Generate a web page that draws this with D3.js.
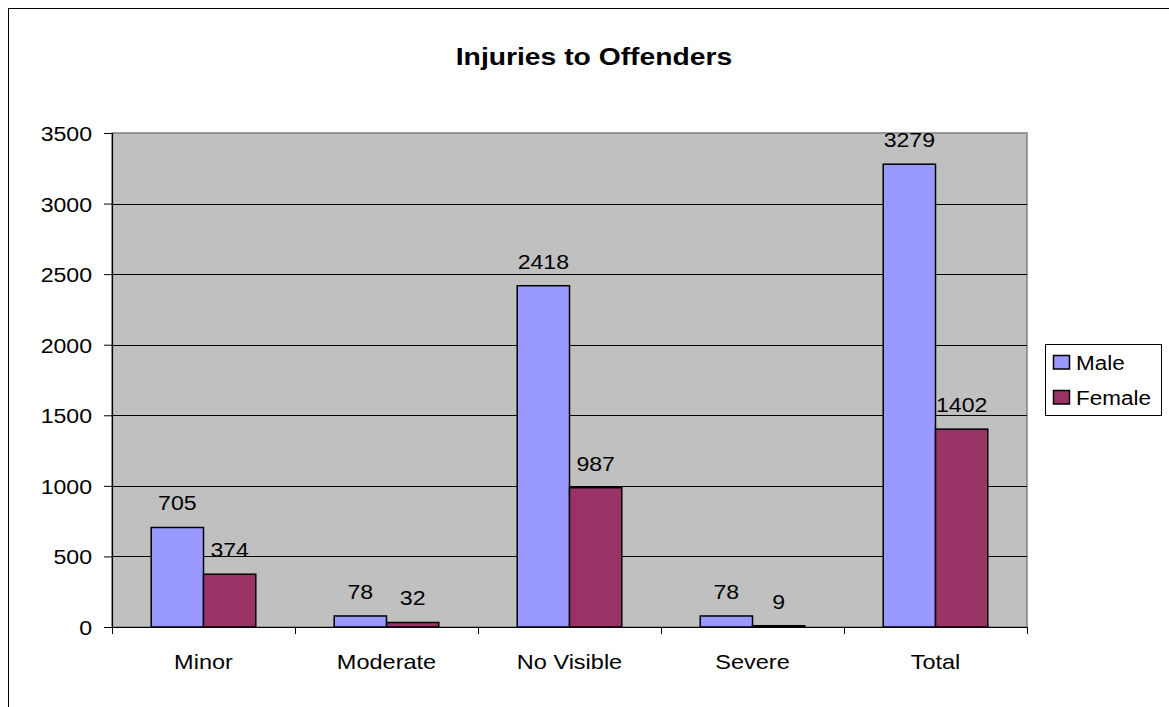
<!DOCTYPE html>
<html>
<head>
<meta charset="utf-8">
<script src="https://cdn.jsdelivr.net/npm/d3@7"></script>
<style>
  html, body { margin: 0; padding: 0; background: #fff; }
  svg { display: block; font-family: Arial, "Liberation Sans", sans-serif; }
</style>
</head>
<body>
<svg id="chart" width="1169" height="707"></svg>
<script>
const categories = ["Minor", "Moderate", "No Visible", "Severe", "Total"];
const seriesNames = ["Male", "Female"];
const maleValues = [705, 78, 2418, 78, 3279];
const femaleValues = [374, 32, 987, 9, 1402];
const yTicks = [0, 500, 1000, 1500, 2000, 2500, 3000, 3500];
const colors = ["#9999FF", "#993366"];
const title = "Injuries to Offenders";

const svg = d3.select("#chart");
const plot = { left: 112, top: 133, right: 1027, bottom: 627 };
const SX = 1.1; // horizontal stretch of the reference glyphs

function stretchedText(parent, x, y, str, anchor, size, weight, sx) {
  return parent.append("text")
    .attr("transform", `translate(${x},${y}) scale(${sx},1)`)
    .attr("text-anchor", anchor).attr("font-size", size)
    .attr("font-weight", weight || "normal").attr("fill", "#000")
    .text(str);
}

// outer chart border
svg.append("rect").attr("x", 8.5).attr("y", 8.5).attr("width", 1300).attr("height", 800)
  .attr("fill", "#fff").attr("stroke", "#000").attr("stroke-width", 1);

// title
stretchedText(svg, 594, 64.5, title, "middle", 23, "bold", 1.23);

const y = d3.scaleLinear().domain([0, 3500]).range([plot.bottom, plot.top]);
const x0 = d3.scaleBand().domain(categories).range([plot.left, plot.right]).paddingInner(0).paddingOuter(0);
const bw = x0.bandwidth();
const barW = bw / (2 + 1.5);
const x1 = d3.scaleBand().domain(seriesNames).range([0, barW * 2]);

// plot background
svg.append("rect").attr("x", plot.left).attr("y", plot.top)
  .attr("width", plot.right - plot.left).attr("height", plot.bottom - plot.top)
  .attr("fill", "#C0C0C0").attr("stroke", "#808080").attr("stroke-width", 1.5);

// gridlines
svg.append("g").selectAll("line").data(yTicks.filter(d => d > 0 && d < 3500)).join("line")
  .attr("x1", plot.left).attr("x2", plot.right)
  .attr("y1", d => Math.round(y(d)) + 0.5).attr("y2", d => Math.round(y(d)) + 0.5)
  .attr("stroke", "#000").attr("stroke-width", 1);

// y axis
const yAxis = svg.append("g").attr("transform", `translate(${plot.left},0)`)
  .call(d3.axisLeft(y).tickValues(yTicks).tickSize(8).tickFormat(""));
yAxis.select(".domain").attr("stroke", "#000").attr("stroke-width", 1.2);
yAxis.selectAll(".tick line").attr("stroke", "#000");
yAxis.selectAll(".tick").each(function(d) {
  stretchedText(d3.select(this), -20, 7.5, d3.format("d")(d), "end", 21, "normal", SX);
});

// bars
const data = categories.map((c, i) => ({ cat: c, vals: [maleValues[i], femaleValues[i]] }));
const groups = svg.append("g").selectAll("g").data(data).join("g")
  .attr("transform", d => `translate(${x0(d.cat) + (bw - barW * 2) / 2},0)`);
groups.selectAll("rect").data(d => d.vals.map((v, j) => ({ v, s: seriesNames[j], j }))).join("rect")
  .attr("x", d => x1(d.s)).attr("width", barW)
  .attr("y", d => y(d.v)).attr("height", d => y(0) - y(d.v))
  .attr("fill", d => colors[d.j]).attr("stroke", "#000").attr("stroke-width", 1.5);
groups.each(function(d) {
  const g = d3.select(this);
  d.vals.forEach((v, j) => {
    stretchedText(g, x1(seriesNames[j]) + barW / 2, y(v) - 17, String(v), "middle", 21, "normal", SX);
  });
});

// x axis
const xAxisG = svg.append("g");
xAxisG.append("line").attr("x1", plot.left).attr("x2", plot.right + 0.5)
  .attr("y1", plot.bottom + 0.5).attr("y2", plot.bottom + 0.5).attr("stroke", "#000").attr("stroke-width", 1.2);
const bounds = categories.map(c => x0(c)).concat([plot.right]);
xAxisG.selectAll("line.tk").data(bounds).join("line").attr("class", "tk")
  .attr("x1", d => Math.round(d) + 0.5).attr("x2", d => Math.round(d) + 0.5)
  .attr("y1", plot.bottom).attr("y2", plot.bottom + 7).attr("stroke", "#000");
categories.forEach(c => {
  stretchedText(xAxisG, x0(c) + bw / 2, 668.5, c, "middle", 21, "normal", 1.12);
});

// legend
const lg = svg.append("g");
lg.append("rect").attr("x", 1045.5).attr("y", 344.5).attr("width", 116).attr("height", 71)
  .attr("fill", "#fff").attr("stroke", "#000").attr("stroke-width", 1);
seriesNames.forEach((s, i) => {
  const yy = 355.5 + i * 35;
  lg.append("rect").attr("x", 1053.5).attr("y", yy).attr("width", 16).attr("height", 13.5)
    .attr("fill", colors[i]).attr("stroke", "#000").attr("stroke-width", 1.5);
  stretchedText(lg, 1076, yy + 14, s, "start", 21, "normal", 1.07);
});
</script>
</body>
</html>
